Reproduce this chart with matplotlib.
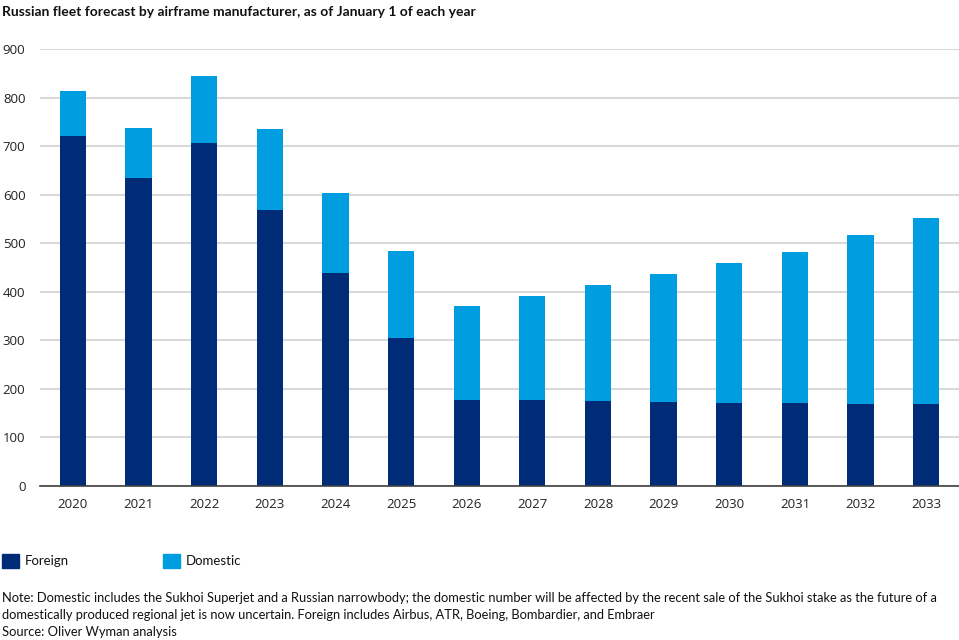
import matplotlib
matplotlib.use("Agg")
import matplotlib.pyplot as plt
from matplotlib.patches import Rectangle

years = ["2020", "2021", "2022", "2023", "2024", "2025", "2026", "2027",
         "2028", "2029", "2030", "2031", "2032", "2033"]
foreign = [721, 634, 706, 568, 438, 306, 177, 177, 176, 174, 172, 172, 170, 170]
domestic = [94, 103, 138, 167, 165, 179, 194, 215, 238, 262, 287, 311, 347, 383]
yticks = [0, 100, 200, 300, 400, 500, 600, 700, 800, 900]

title = "Russian fleet forecast by airframe manufacturer, as of January 1 of each year"
note_lines = [
    "Note: Domestic includes the Sukhoi Superjet and a Russian narrowbody; the domestic number will be affected by the recent sale of the Sukhoi stake as the future of a",
    "domestically produced regional jet is now uncertain. Foreign includes Airbus, ATR, Boeing, Bombardier, and Embraer",
    "Source: Oliver Wyman analysis",
]

NAVY = "#002C77"
BLUE = "#009DE0"

fig = plt.figure(figsize=(9.59, 6.40), dpi=100)
ax = fig.add_axes([40 / 959, 1 - 486 / 640, 1 - 40 / 959, (486 - 49.3) / 640])

x = list(range(len(years)))
ax.bar(x, foreign, width=0.4, color=NAVY, zorder=3)
ax.bar(x, domestic, width=0.4, bottom=foreign, color=BLUE, zorder=3)

ax.set_ylim(0, 900)
ax.set_xlim(-0.5, len(years) - 0.5)
ax.set_yticks(yticks)
ax.set_xticks(x)
ax.set_xticklabels(years)
ax.yaxis.grid(True, color="#d9d9d9", linewidth=1.5, zorder=0)
ax.set_axisbelow(True)
for s in ["top", "right", "left"]:
    ax.spines[s].set_visible(False)
ax.spines["bottom"].set_color("#404040")
ax.spines["bottom"].set_linewidth(1.2)
ax.spines["bottom"].set_zorder(4)
ax.tick_params(axis="both", length=0, labelsize=9.5, colors="#222222")
ax.tick_params(axis="x", pad=9)
ax.tick_params(axis="y", pad=10.5)
for lab in ax.get_xticklabels() + ax.get_yticklabels():
    lab.set_fontfamily("Open Sans")

fig.text(2 / 959, 1 - 12 / 640, title, fontsize=10, fontweight="bold",
         family="Lato", va="center", ha="left", color="#111111")

# legend
for (lx, label, col) in [(2, "Foreign", NAVY), (163, "Domestic", BLUE)]:
    fig.patches.append(Rectangle((lx / 959, 1 - 568 / 640), 17 / 959, 14 / 640,
                                 transform=fig.transFigure, color=col))
    fig.text((lx + 23) / 959, 1 - 561 / 640, label, fontsize=9.5, family="Lato",
             va="center", ha="left", color="#111111")

for i, line in enumerate(note_lines):
    fig.text(2 / 959, 1 - (598 + 17 * i) / 640, line, fontsize=9.3, family="Lato",
             va="center", ha="left", color="#111111")

fig.savefig("out.png", dpi=100)
